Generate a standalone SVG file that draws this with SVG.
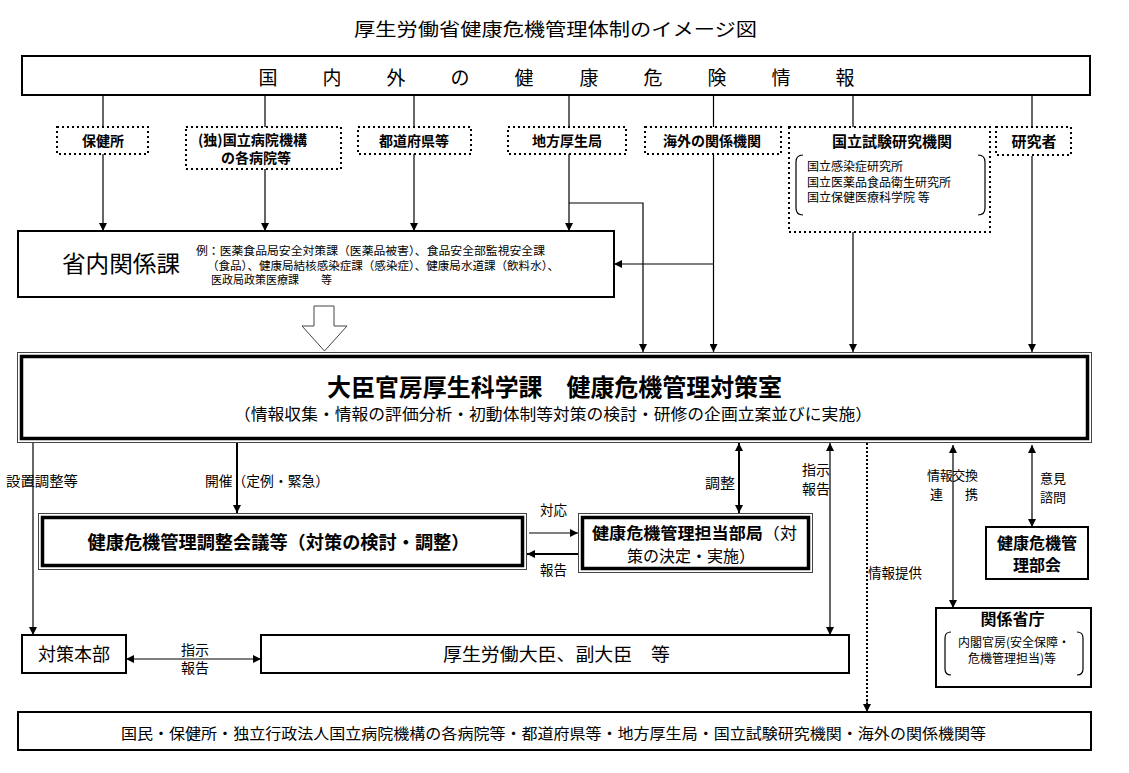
<svg xmlns="http://www.w3.org/2000/svg" width="1129" height="773" viewBox="0 0 1129 773">
<defs>
<marker id="ah" markerUnits="userSpaceOnUse" markerWidth="8" markerHeight="8" refX="8" refY="4" orient="auto-start-reverse">
<path d="M0,0 L8,4 L0,8 z" fill="#000"/>
</marker>
</defs>
<style>
text{font-family:"Noto Sans CJK JP","Noto Sans CJK SC",sans-serif;fill:#000}
.box{fill:#fff;stroke:#000;stroke-width:2}
.dot{fill:#fff;stroke:#000;stroke-width:2;stroke-dasharray:2 3}
.ln{fill:none;stroke:#000;stroke-width:1.2}
.lnb{fill:none;stroke:#000;stroke-width:2}
.dl{fill:none;stroke:#000;stroke-width:2;stroke-dasharray:2 2}
.b14{font-size:14px;font-weight:bold}
.t14{font-size:14px}
.t13{font-size:13px}
.t12{font-size:12px}
.outer{fill:#fff;stroke:#444;stroke-width:1}
.inner{fill:none;stroke:#000;stroke-width:3.5}
</style>
<rect width="1129" height="773" fill="#fff"/>

<g id="title">
<text x="354" y="36" font-size="18" textLength="403" lengthAdjust="spacingAndGlyphs">厚生労働省健康危機管理体制のイメージ図</text>
</g>

<g id="connectors">
<line class="ln" x1="103" y1="95" x2="103" y2="127"/>
<line class="ln" x1="265" y1="95" x2="265" y2="127"/>
<line class="ln" x1="414" y1="95" x2="414" y2="127"/>
<line class="ln" x1="569" y1="95" x2="569" y2="127"/>
<line class="ln" x1="713.5" y1="95" x2="713.5" y2="127"/>
<line class="ln" x1="853" y1="95" x2="853" y2="127"/>
<line class="ln" x1="1032" y1="95" x2="1032" y2="127"/>
<line class="ln" x1="103" y1="154" x2="103" y2="231" marker-end="url(#ah)"/>
<line class="ln" x1="265" y1="169" x2="265" y2="231" marker-end="url(#ah)"/>
<line class="ln" x1="414" y1="154" x2="414" y2="231" marker-end="url(#ah)"/>
<line class="ln" x1="569" y1="154" x2="569" y2="231" marker-end="url(#ah)"/>
<polyline class="ln" points="569,203 643,203 643,352" marker-end="url(#ah)"/>
<line class="ln" x1="713.5" y1="154" x2="713.5" y2="352" marker-end="url(#ah)"/>
<line class="ln" x1="713.5" y1="264" x2="614" y2="264" marker-end="url(#ah)"/>
<line class="ln" x1="853" y1="232" x2="853" y2="352" marker-end="url(#ah)"/>
<line class="ln" x1="1032" y1="156" x2="1032" y2="352" marker-end="url(#ah)"/>
<polygon points="314,306 334,306 334,326 347,326 324.5,351 302,326 314,326" fill="#fff" stroke="#444" stroke-width="1"/>
<line class="ln" x1="33" y1="443" x2="33" y2="635" marker-end="url(#ah)"/>
<line class="lnb" x1="237" y1="443" x2="237" y2="513" marker-end="url(#ah)"/>
<line class="ln" x1="529" y1="533" x2="578" y2="533" marker-end="url(#ah)"/>
<line class="lnb" x1="578" y1="554" x2="527" y2="554" marker-end="url(#ah)"/>
<line class="lnb" x1="739" y1="443" x2="739" y2="513" marker-start="url(#ah)" marker-end="url(#ah)"/>
<line class="ln" x1="830" y1="443" x2="830" y2="635" marker-start="url(#ah)" marker-end="url(#ah)"/>
<line class="dl" x1="867" y1="443" x2="867" y2="704"/>
<line class="ln" x1="867" y1="700" x2="867" y2="712" marker-end="url(#ah)"/>
<line class="ln" x1="953" y1="445" x2="953" y2="608" marker-start="url(#ah)" marker-end="url(#ah)"/>
<line class="ln" x1="1032" y1="445" x2="1032" y2="527" marker-start="url(#ah)" marker-end="url(#ah)"/>
<line class="ln" x1="126" y1="659" x2="261" y2="659" marker-start="url(#ah)" marker-end="url(#ah)"/>
</g>

<g id="labels">
<text class="t14" x="6" y="486" textLength="72" lengthAdjust="spacingAndGlyphs">設置調整等</text>
<text class="t14" x="205" y="486" textLength="124" lengthAdjust="spacingAndGlyphs">開催（定例・緊急）</text>
<text class="t14" x="705" y="488" textLength="30" lengthAdjust="spacingAndGlyphs">調整</text>
<text class="t14" x="802" y="475" textLength="28" lengthAdjust="spacingAndGlyphs">指示</text>
<text class="t14" x="802" y="494" textLength="28" lengthAdjust="spacingAndGlyphs">報告</text>
<text class="t14" x="540" y="515" textLength="27" lengthAdjust="spacingAndGlyphs">対応</text>
<text class="t14" x="540" y="575" textLength="27" lengthAdjust="spacingAndGlyphs">報告</text>
<text class="t14" x="868" y="578" textLength="54" lengthAdjust="spacingAndGlyphs">情報提供</text>
<text class="t13" x="927" y="480" textLength="51" lengthAdjust="spacing">情報交換</text>
<text class="t13" y="499"><tspan x="930">連</tspan><tspan x="965">携</tspan></text>
<text class="t13" x="1040" y="483" textLength="26" lengthAdjust="spacing">意見</text>
<text class="t13" x="1040" y="502" textLength="26" lengthAdjust="spacing">諮問</text>
<text class="t14" x="181" y="655" textLength="28" lengthAdjust="spacingAndGlyphs">指示</text>
<text class="t14" x="181" y="673" textLength="28" lengthAdjust="spacingAndGlyphs">報告</text>
</g>

<g id="info-source">
<rect class="box" x="22" y="56" width="1068" height="39" stroke-width="2.5"/>
<text font-size="19" y="85" text-anchor="middle"><tspan x="268">国</tspan><tspan x="332">内</tspan><tspan x="396">外</tspan><tspan x="460">の</tspan><tspan x="524">健</tspan><tspan x="589">康</tspan><tspan x="653">危</tspan><tspan x="717">険</tspan><tspan x="781">情</tspan><tspan x="845">報</tspan></text>
</g>

<g id="hokenjo">
<rect class="dot" x="57" y="127" width="91" height="27"/>
<text class="b14" x="103" y="146" text-anchor="middle">保健所</text>
</g>
<g id="byoin">
<rect class="dot" x="186" y="127" width="155" height="42"/>
<text class="b14" x="198" y="145" textLength="109" lengthAdjust="spacingAndGlyphs">(独)国立病院機構</text>
<text class="b14" x="256" y="163" text-anchor="middle">の各病院等</text>
</g>
<g id="todofuken">
<rect class="dot" x="358" y="127" width="113" height="27"/>
<text class="b14" x="414" y="146" text-anchor="middle">都道府県等</text>
</g>
<g id="chiho">
<rect class="dot" x="508" y="127" width="118" height="27"/>
<text class="b14" x="567" y="146" text-anchor="middle">地方厚生局</text>
</g>
<g id="kaigai">
<rect class="dot" x="645" y="127" width="136" height="27"/>
<text class="b14" x="712" y="146" text-anchor="middle">海外の関係機関</text>
</g>
<g id="kokuritsu">
<rect class="dot" x="789" y="127" width="201" height="105"/>
<text x="892" y="147" font-size="15" font-weight="bold" text-anchor="middle">国立試験研究機関</text>
<path class="ln" d="M803,155 Q796,155 796,162 L796,208 Q796,215 803,215"/>
<path class="ln" d="M978,155 Q985,155 985,162 L985,208 Q985,215 978,215"/>
<text class="t12" x="807" y="171">国立感染症研究所</text>
<text class="t12" x="807" y="187">国立医薬品食品衛生研究所</text>
<text class="t12" x="807" y="202">国立保健医療科学院 等</text>
</g>
<g id="kenkyusha">
<rect class="dot" x="996" y="127" width="75" height="28"/>
<text x="1034" y="147" font-size="15" font-weight="bold" text-anchor="middle">研究者</text>
</g>

<g id="shonai">
<rect class="box" x="18" y="231" width="596" height="66"/>
<text x="62" y="272" font-size="23" textLength="118" lengthAdjust="spacingAndGlyphs">省内関係課</text>
<text x="196" y="254.5" font-size="11.5" textLength="349" lengthAdjust="spacingAndGlyphs">例：医薬食品局安全対策課（医薬品被害）、食品安全部監視安全課</text>
<text x="207" y="269.5" font-size="11.5" textLength="352" lengthAdjust="spacingAndGlyphs">（食品）、健康局結核感染症課（感染症）、健康局水道課（飲料水）、</text>
<text x="211" y="283.5" font-size="11.5" textLength="121" lengthAdjust="spacingAndGlyphs">医政局政策医療課　　等</text>
</g>

<g id="taisakushitsu">
<rect class="outer" x="17.5" y="352.5" width="1074" height="90"/>
<rect class="inner" x="21.5" y="356.5" width="1066" height="82"/>
<text x="327" y="396" font-size="24" font-weight="bold" textLength="455" lengthAdjust="spacingAndGlyphs">大臣官房厚生科学課　健康危機管理対策室</text>
<text x="234" y="420" font-size="16" textLength="638" lengthAdjust="spacingAndGlyphs">（情報収集・情報の評価分析・初動体制等対策の検討・研修の企画立案並びに実施）</text>
</g>

<g id="chosei-kaigi">
<rect class="outer" x="38.5" y="513.5" width="488" height="56"/>
<rect class="inner" x="42.5" y="517.5" width="480" height="48"/>
<text x="87.5" y="549" font-size="18" font-weight="bold" textLength="382" lengthAdjust="spacingAndGlyphs">健康危機管理調整会議等（対策の検討・調整）</text>
</g>

<g id="tanto-bukyoku">
<rect class="outer" x="578.5" y="513.5" width="234" height="59"/>
<rect class="inner" x="582.5" y="517.5" width="226" height="51"/>
<text x="592" y="538.5" font-size="16" textLength="205" lengthAdjust="spacingAndGlyphs"><tspan font-weight="bold">健康危機管理担当部局</tspan>（対</text>
<text x="691" y="562" font-size="16" text-anchor="middle" textLength="128" lengthAdjust="spacingAndGlyphs">策の決定・実施）</text>
</g>

<g id="bukai">
<rect class="box" x="986" y="527" width="102" height="52" stroke-width="2.5"/>
<text x="1037" y="549" font-size="16" font-weight="bold" text-anchor="middle">健康危機管</text>
<text x="1037" y="571" font-size="16" font-weight="bold" text-anchor="middle">理部会</text>
</g>

<g id="kankei-shocho">
<rect class="box" x="936" y="608" width="155" height="79" stroke-width="2.5"/>
<text x="1012.5" y="625" font-size="16" font-weight="bold" text-anchor="middle">関係省庁</text>
<path class="ln" d="M951,632 Q945,632 945,638 L945,669 Q945,675 951,675"/>
<path class="ln" d="M1077,632 Q1083,632 1083,638 L1083,669 Q1083,675 1077,675"/>
<text class="t12" x="958" y="646.5" textLength="112" lengthAdjust="spacingAndGlyphs">内閣官房(安全保障・</text>
<text class="t12" x="968" y="662.5" textLength="88" lengthAdjust="spacingAndGlyphs">危機管理担当)等</text>
</g>

<g id="taisaku-honbu">
<rect class="box" x="22" y="635" width="104" height="38" stroke-width="2.5"/>
<text x="74" y="661" font-size="18" text-anchor="middle">対策本部</text>
</g>

<g id="daijin">
<rect class="box" x="261" y="635" width="588" height="38" stroke-width="2.5"/>
<text x="443" y="661" font-size="18" textLength="227" lengthAdjust="spacingAndGlyphs">厚生労働大臣、副大臣　等</text>
</g>

<g id="kokumin">
<rect class="box" x="18" y="712" width="1073" height="38"/>
<text x="121" y="739" font-size="15" textLength="865" lengthAdjust="spacingAndGlyphs">国民・保健所・独立行政法人国立病院機構の各病院等・都道府県等・地方厚生局・国立試験研究機関・海外の関係機関等</text>
</g>
</svg>
